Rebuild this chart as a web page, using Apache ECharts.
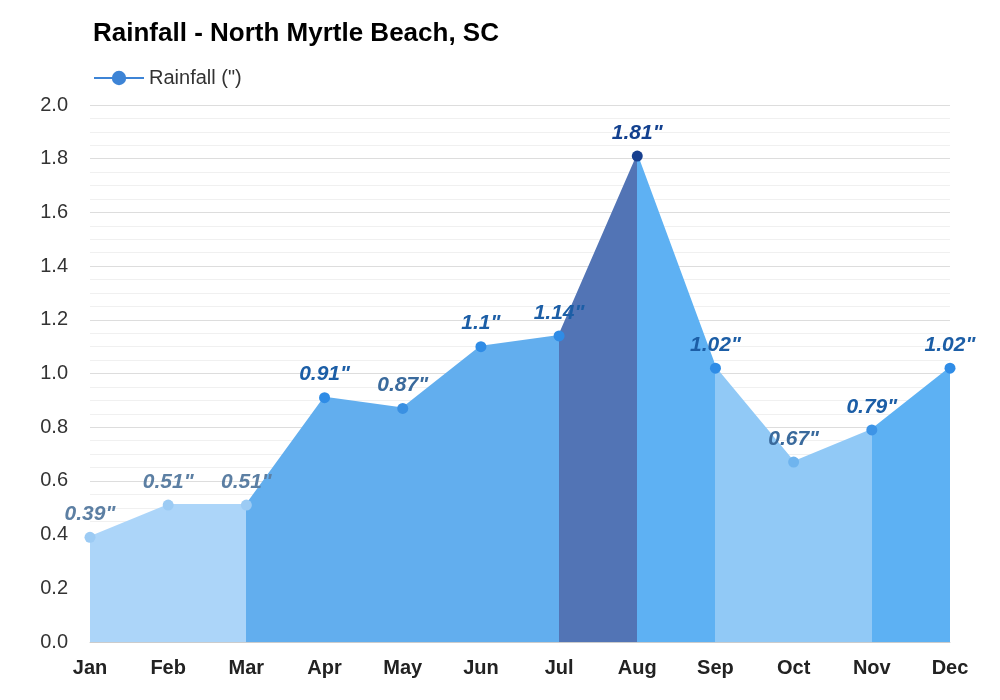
<!DOCTYPE html>
<html><head><meta charset="utf-8">
<script src="https://cdn.jsdelivr.net/npm/echarts@6/dist/echarts.min.js"></script>
<style>html,body{margin:0;padding:0;background:#fff}#c{width:1000px;height:700px}</style>
</head><body><div id="c"></div>
<script>
const months = ['Jan','Feb','Mar','Apr','May','Jun','Jul','Aug','Sep','Oct','Nov','Dec'];
const rainfall = [0.39,0.51,0.51,0.91,0.87,1.1,1.14,1.81,1.02,0.67,0.79,1.02];
const yTicks = [0,0.2,0.4,0.6,0.8,1.0,1.2,1.4,1.6,1.8,2.0];
const pointColors = ['#9ccbf4','#9ccbf4','#9ccbf4','#2f8ce6','#3a90e2','#2f8ce6','#2f8ce6','#173f8f','#2f8ce6','#6fb4ee','#3d94e6','#2f8ce6'];
const labelColors = ['#5c7fa3','#5c7fa3','#5c7fa3','#1c5ea6','#3a6a9c','#1c5ea6','#1c5ea6','#13418f','#1c5ea6','#3a6a9c','#1c5ea6','#1c5ea6'];

const chart = echarts.init(document.getElementById('c'));
chart.setOption({
  animation:false,
  title:{text:'Rainfall - North Myrtle Beach, SC',left:88,top:16,textStyle:{fontFamily:'Liberation Sans',fontWeight:'bold',fontSize:26,color:'#000'}},
  legend:{left:88,top:63,itemWidth:50,itemHeight:18,data:['Rainfall (")'],textStyle:{fontFamily:'Liberation Sans',fontSize:20,color:'#333'}},
  grid:{left:90,right:50,top:105,bottom:58},
  visualMap:{show:false,type:'piecewise',dimension:0,seriesIndex:0,pieces:[
    {gte:0,lt:2,color:'#acd5f9'},
    {gte:2,lt:6,color:'#62aeee'},
    {gte:6,lt:7,color:'#5274b5'},
    {gte:7,lt:8,color:'#5eb1f3'},
    {gte:8,lt:10,color:'#91c9f6'},
    {gte:10,lte:11,color:'#5db1f3'}
  ]},
  xAxis:{type:'category',boundaryGap:false,data:months,
    axisLine:{lineStyle:{color:'#ccc'}},axisTick:{show:false},
    axisLabel:{fontFamily:'Liberation Sans',fontWeight:'bold',fontSize:20,color:'#222',margin:16},
    splitLine:{show:false}},
  yAxis:{type:'value',min:0,max:2,interval:0.2,
    axisLabel:{fontFamily:'Liberation Sans',fontSize:20,color:'#333',margin:22,formatter:v=>v.toFixed(1)},
    splitLine:{lineStyle:{color:'#ddd'}},
    minorTick:{show:false,splitNumber:4},
    minorSplitLine:{show:true,lineStyle:{color:'#f0f0f0'}}},
  series:[{
    name:'Rainfall (")',type:'line',
    symbol:'circle',symbolSize:11,
    lineStyle:{width:2},
    areaStyle:{opacity:1},
    itemStyle:{color:'#3d84d6'},
    data:rainfall.map((v,i)=>({value:v,itemStyle:{color:pointColors[i]},label:{color:labelColors[i]}})),
    label:{show:true,position:'top',distance:7,formatter:p=>p.value+'"',
      fontFamily:'Liberation Sans',fontStyle:'italic',fontWeight:'bold',fontSize:21}
  }]
});
</script></body></html>
